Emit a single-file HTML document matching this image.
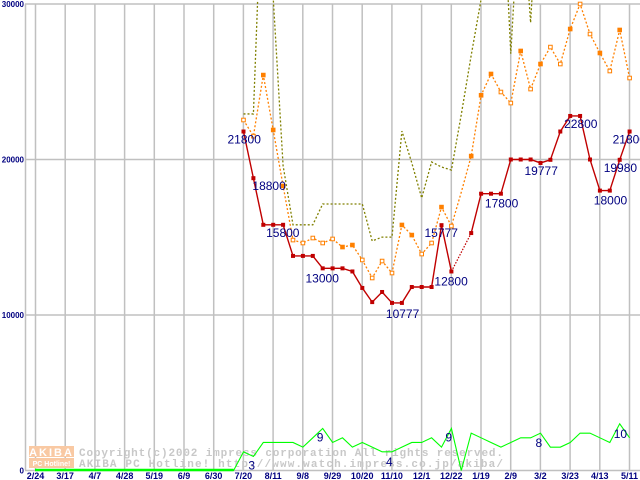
<!DOCTYPE html>
<html><head><meta charset="utf-8"><style>
html,body{margin:0;padding:0;background:#fff;}
svg{display:block;font-family:"Liberation Sans",sans-serif;}
</style></head><body>
<svg id="chart" width="640" height="480" viewBox="0 0 640 480" xmlns="http://www.w3.org/2000/svg"></svg>
<script>
const xLabels=["2/24","3/17","4/7","4/28","5/19","6/9","6/30","7/20","8/11","9/8","9/29","10/20","11/10","12/1","12/22","1/19","2/9","3/2","3/23","4/13","5/11"];
const yTicks=[0,10000,20000,30000];
const minPrice=[21800,18800,15800,15800,15800,13800,13800,13800,13000,13000,13000,12800,11740,10830,11480,10777,10777,11800,11800,11800,15777,12800,null,15270,17800,17800,17800,20000,20000,20000,19777,19980,21800,22800,22800,20000,18000,18000,19980,21800];
const avgPrice=[22540,21500,25430,21900,18300,14820,14630,14950,14630,14890,14370,14500,13540,12380,13470,12700,15790,15140,13920,14630,16940,15720,17900,20220,24130,25500,24340,23630,26980,24530,26140,27230,26140,28390,30000,28070,26850,25690,28330,25240];
const avgFilled=[0,0,1,1,1,0,0,0,0,0,1,1,0,0,0,0,1,1,0,0,1,0,-1,1,1,1,0,0,1,0,1,0,0,1,0,0,1,0,1,0];
const maxPrice=[22930,22930,40000,30400,19600,15800,15800,15800,17140,17140,17140,17140,17140,14760,15010,15010,21830,19780,17520,19840,19520,19320,22900,26700,30300,40000,40000,26800,38000,28800,40000,40000,40000,40000,40000,40000,40000,40000,40000,40000];
const shopCount=[4,3,6,6,6,6,5,7,9,6,7,5,6,5,4,4,5,6,6,7,5,9,0,8,7,6,5,6,7,7,8,5,5,6,8,8,7,6,10,7];
const priceLabels=[[0,"21800",-16,12],[1,"18800",-1,12],[4,"15800",-17,12],[10,"13000",-37,14],[16,"10777",-16,15],[20,"15777",-17,12],[21,"12800",-17,14],[26,"17800",-16,14],[30,"19777",-16,12],[34,"22800",-16,12],[37,"18000",-16,14],[38,"19980",-16,12],[39,"21800",-17,12]];
const countLabels=[[1,"3",-5,13],[8,"9",-6,13],[15,"4",-6,14],[21,"9",-6,13],[30,"8",-5,14],[38,"10",-6,14]];

const svg=document.getElementById('chart');
const NS="http://www.w3.org/2000/svg";
function mk(t,a,p){const e=document.createElementNS(NS,t);for(const k in a)e.setAttribute(k,a[k]);(p||svg).appendChild(e);return e;}
const gridX=i=>35.5+29.7*i;
const wx=j=>243.5+9.9*j;
const py=v=>470.5-v*0.01555;
const cy=c=>470.5-c*4.67;

const grid=mk('g',{});


xLabels.forEach((l,i)=>{const ln=mk('line',{x1:gridX(i),x2:gridX(i),y1:4,y2:470,stroke:'#c0c0c0','stroke-width':1.5},grid);

});
yTicks.forEach(v=>{const ln=mk('line',{x1:25,x2:640,y1:py(v),y2:py(v),stroke:'#c0c0c0','stroke-width':1.5},grid);

});
const ax=mk('line',{x1:25.5,x2:25.5,y1:4,y2:470,stroke:'#c0c0c0','stroke-width':1.5});



const wm=mk('g',{});


mk('rect',{x:29,y:446,width:45,height:11,fill:'#f9c9a3'},wm);
mk('rect',{x:29,y:458,width:45,height:10,fill:'#f9c9a3'},wm);
const t1=mk('text',{x:51.5,y:456,fill:'#fff','font-size':11,'font-weight':'bold','text-anchor':'middle','letter-spacing':2},wm);t1.textContent="AKIBA";
const t2=mk('text',{x:51.5,y:466,fill:'#fff','font-size':7,'font-weight':'bold','text-anchor':'middle'},wm);t2.textContent="PC Hotline!";
const t3=mk('text',{x:79,y:456,fill:'#c8c8c8','font-size':11,'font-family':'Liberation Mono, monospace','font-weight':'bold',textLength:424},wm);t3.textContent="Copyright(c)2002 impress corporation All rights reserved.";
const t4=mk('text',{x:79,y:467,fill:'#c8c8c8','font-size':11,'font-family':'Liberation Mono, monospace','font-weight':'bold',textLength:424},wm);t4.textContent="AKIBA PC Hotline!  http://www.watch.impress.co.jp/akiba/";

xLabels.forEach((l,i)=>{const t=mk('text',{x:gridX(i),y:479,fill:'#000080','font-size':9,'font-weight':'bold','text-anchor':'middle'});t.textContent=l;

});
yTicks.forEach(v=>{const t=mk('text',{x:24,y:py(v)+3,fill:'#000080','font-size':8,'font-weight':'bold','text-anchor':'end'});t.textContent=String(v);

});

const clip=mk('clipPath',{id:'cp'});mk('rect',{x:0,y:0,width:640,height:472},clip);

let d='';maxPrice.forEach((v,j)=>{if(v!=null)d+=(d?'L':'M')+wx(j)+' '+py(v);});
const maxLine=mk('path',{d:d,fill:'none',stroke:'#808000','stroke-width':1.3,'stroke-dasharray':'2,2','clip-path':'url(#cp)'});



d='';avgPrice.forEach((v,j)=>{if(v!=null)d+=(d?'L':'M')+wx(j)+' '+py(v);});
const avgLine=mk('path',{d:d,fill:'none',stroke:'#ff8000','stroke-width':1.3,'stroke-dasharray':'2,2'});


avgPrice.forEach((v,j)=>{if(v==null||avgFilled[j]<0)return;
const r=mk('rect',{x:wx(j)-1.8,y:py(v)-1.8,width:3.6,height:3.6,fill:avgFilled[j]?'#ff8000':'#fff',stroke:'#ff8000','stroke-width':1});

});

d='';let prev=null;const gaps=[];
minPrice.forEach((v,j)=>{if(v==null)return;if(prev!=null&&j-prev>1){gaps.push([prev,j]);d+='M'+wx(j)+' '+py(v);}else d+=(d?'L':'M')+wx(j)+' '+py(v);prev=j;});
const minLine=mk('path',{d:d,fill:'none',stroke:'#c00000','stroke-width':1.4});


gaps.forEach(g=>{const l=mk('line',{x1:wx(g[0]),y1:py(minPrice[g[0]]),x2:wx(g[1]),y2:py(minPrice[g[1]]),stroke:'#c00000','stroke-width':1.2,'stroke-dasharray':'1.5,1.5'});

});
minPrice.forEach((v,j)=>{if(v==null)return;
const r=mk('rect',{x:wx(j)-2,y:py(v)-2,width:4,height:4,fill:'#c00000'});

});

d='M35 '+cy(0)+' L'+(wx(0)-9.9)+' '+cy(0);
shopCount.forEach((c,j)=>{d+='L'+wx(j)+' '+cy(c);});
const base=mk('line',{x1:35,x2:wx(0)-9.9,y1:470,y2:470,stroke:'#00ff00','stroke-width':2.5});


const cl=mk('path',{d:d,fill:'none',stroke:'#00ff00','stroke-width':1.1});



priceLabels.forEach(p=>{const t=mk('text',{x:wx(p[0])+p[2],y:py(minPrice[p[0]])+p[3],fill:'#000080','font-size':12});t.textContent=p[1];

});
countLabels.forEach(p=>{const t=mk('text',{x:wx(p[0])+p[2],y:cy(shopCount[p[0]])+p[3],fill:'#000080','font-size':12});t.textContent=p[1];

});
</script>
</body></html>
